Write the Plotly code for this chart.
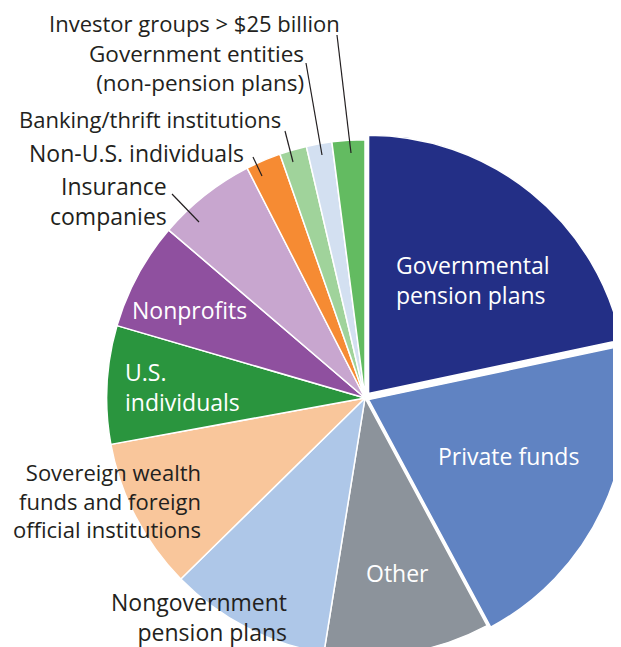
import plotly.graph_objects as go

# ---- data ----
categories = [
    "Governmental pension plans", "Private funds", "Other",
    "Nongovernment pension plans",
    "Sovereign wealth funds and foreign official institutions",
    "U.S. individuals", "Nonprofits", "Insurance companies",
    "Non-U.S. individuals", "Banking/thrift institutions",
    "Government entities (non-pension plans)", "Investor groups > $25 billion",
]
shares = [21.7, 20.5, 10.4, 10.1, 9.5, 7.4, 6.75, 6.2, 2.2, 1.7, 1.6, 2.05]
colors = ["#232f86", "#6083c2", "#8c939b", "#aec7e8", "#f9c69b", "#2a953e",
          "#8f509f", "#c8a6cf", "#f68b33", "#a0d39b", "#d3e0f1", "#63bb61"]
pulls = [0.022, 0.015, 0, 0, 0, 0, 0, 0, 0, 0, 0, 0]

W, H = 650, 680
OFF = 8  # page body margin
FONT = "Open Sans"
DARK = "#231f20"

def px(x):
    return (x - OFF) / W

def py(y):
    return 1 - (y - OFF) / H

cx, cy, R = 365, 398, 264
fig = go.Figure(go.Pie(
    labels=categories, values=shares, sort=False, direction="clockwise",
    rotation=0, marker=dict(colors=colors, line=dict(color="white", width=1.5)),
    pull=pulls, textinfo="none", hoverinfo="label+percent",
    domain=dict(x=[px(cx - R), px(cx + R)], y=[py(cy + R), py(cy - R)]),
    showlegend=False,
))

# labels: (text, x, y, xanchor, align, color, size)
labels = [
    ("Governmental<br>pension plans", 395, 280, "left", "left", "white", 23),
    ("Private funds", 508, 456, "center", "center", "white", 23),
    ("Other", 397, 573, "center", "center", "white", 23),
    ("Nongovernment<br>pension plans", 288, 617, "right", "right", DARK, 23),
    ("Sovereign wealth<br>funds and foreign<br>official institutions", 202, 500, "right", "right", DARK, 22),
    ("U.S.<br>individuals", 124, 387, "left", "left", "white", 23),
    ("Nonprofits", 189, 310, "center", "center", "white", 23),
    ("Insurance<br>companies", 168, 201, "right", "right", DARK, 23),
    ("Non-U.S. individuals", 245, 153, "right", "right", DARK, 23),
    ("Banking/thrift institutions", 282, 119, "right", "right", DARK, 22),
    ("Government entities<br>(non-pension plans)", 305, 68, "right", "right", DARK, 22.5),
    ("Investor groups > $25 billion", 341, 23, "right", "right", DARK, 22),
]
for t, x, y, xa, al, c, s in labels:
    fig.add_annotation(text=t, x=px(x), y=py(y), xref="paper", yref="paper",
                       xanchor=xa, yanchor="middle", align=al, showarrow=False,
                       borderpad=0, font=dict(family=FONT, size=s, color=c))

leaders = [
    (172, 194, 199, 222),
    (253, 157, 262, 176),
    (285, 131, 293, 162),
    (306, 63, 322, 155),
    (337, 35, 351, 153),
]
for x0, y0, x1, y1 in leaders:
    fig.add_shape(type="line", xref="paper", yref="paper",
                  x0=px(x0), y0=py(y0), x1=px(x1), y1=py(y1),
                  line=dict(color=DARK, width=1.2))

fig.update_layout(width=W, height=H, margin=dict(l=0, r=0, t=0, b=0),
                  paper_bgcolor="white", plot_bgcolor="white")
fig.write_html("out.html")
